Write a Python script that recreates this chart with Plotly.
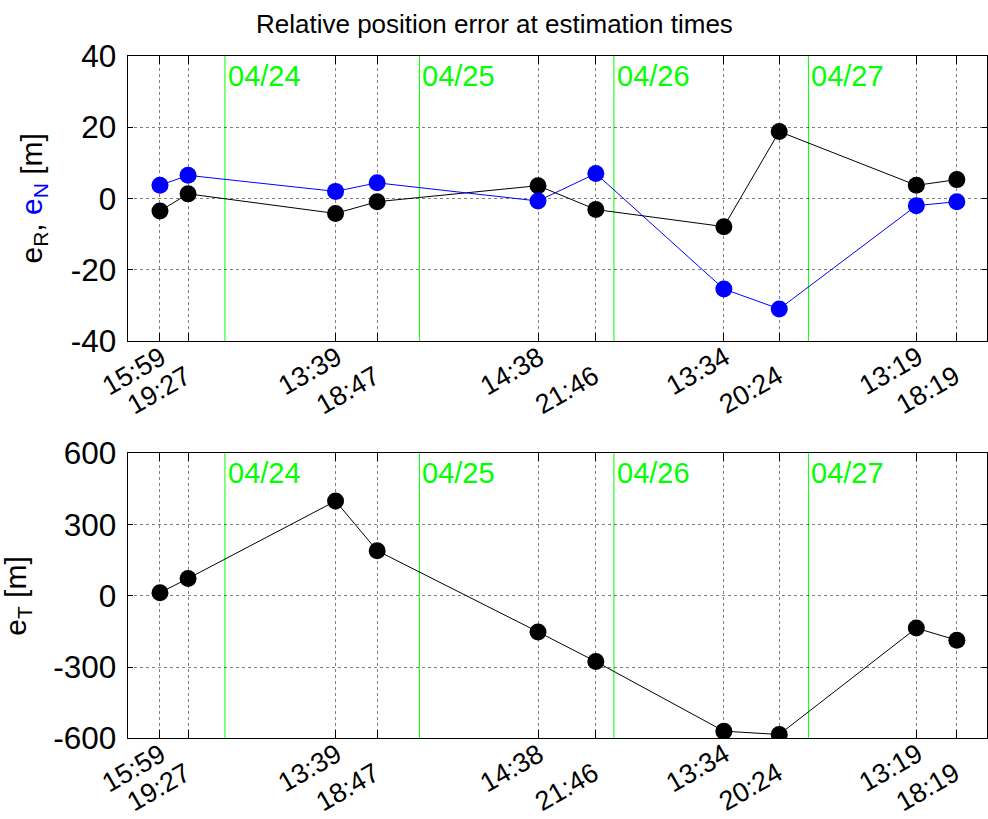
import plotly.graph_objects as go
from datetime import datetime

YEAR = 2015
times = ["04/23 15:59", "04/23 19:27", "04/24 13:39", "04/24 18:47", "04/25 14:38",
         "04/25 21:46", "04/26 13:34", "04/26 20:24", "04/27 13:19", "04/27 18:19"]
e_R = [-3.5, 1.3, -4.2, -0.9, 3.6, -3.1, -7.9, 18.8, 3.7, 5.3]
e_N = [3.7, 6.5, 2.0, 4.4, -0.7, 7.0, -25.4, -31.0, -2.0, -0.9]
e_T = [13, 73, 399, 190, -152, -277, -570, -584, -136, -187]
day_labels = ["04/24", "04/25", "04/26", "04/27"]
y1_ticks = [-40, -20, 0, 20, 40]
y2_ticks = [-600, -300, 0, 300, 600]
x_range = ["04/23 12:00", "04/27 22:00"]


def to_dt(s):
    return datetime.strptime(f"{YEAR}/{s}", "%Y/%m/%d %H:%M")


t = [to_dt(s) for s in times]
tick_labels = [s.split()[1] for s in times]
midnights = [to_dt(d + " 00:00") for d in day_labels]
xr = [to_dt(s) for s in x_range]

W, H = 988, 819
FONT = "Liberation Sans, Arial, Helvetica, sans-serif"
xdom = [127.7 / W, 986.7 / W]
ydom1 = [1 - 341 / H, 1 - 56 / H]
ydom2 = [1 - 738.3 / H, 1 - 453.3 / H]

fig = go.Figure()
fig.add_trace(go.Scatter(x=t, y=e_R, mode="lines+markers", xaxis="x", yaxis="y",
                         line=dict(color="#000000", width=1),
                         marker=dict(size=17, color="#000000"), showlegend=False))
fig.add_trace(go.Scatter(x=t, y=e_N, mode="lines+markers", xaxis="x", yaxis="y",
                         line=dict(color="#0000FF", width=1),
                         marker=dict(size=17, color="#0000FF"), showlegend=False))
fig.add_trace(go.Scatter(x=t, y=e_T, mode="lines+markers", xaxis="x2", yaxis="y2",
                         line=dict(color="#000000", width=1),
                         marker=dict(size=17, color="#000000"), showlegend=False))

grid = dict(showgrid=True, gridcolor="rgba(0,0,0,0.5)", griddash="dot", gridwidth=1,
            zeroline=False, showline=True, linecolor="#000000", linewidth=1,
            mirror="ticks", ticks="inside", tickcolor="#000000", automargin=False)

xcommon = dict(type="date", range=xr, domain=xdom, tickvals=t, showticklabels=False,
               ticklen=8, **grid)
ycommon = dict(ticklen=5, tickfont=dict(size=31.5, color="#000000", family=FONT),
               ticklabelstandoff=4, **grid)

fig.update_layout(
    template="none",
    width=W, height=H,
    margin=dict(l=0, r=0, t=0, b=0, pad=0, autoexpand=False),
    paper_bgcolor="white", plot_bgcolor="white",
    font=dict(family=FONT, color="#000000"),
    xaxis=dict(anchor="y", **xcommon),
    xaxis2=dict(anchor="y2", **xcommon),
    yaxis=dict(anchor="x", domain=ydom1, range=[y1_ticks[0], y1_ticks[-1]],
               tickvals=y1_ticks, ticktext=[str(v) for v in y1_ticks], **ycommon),
    yaxis2=dict(anchor="x2", domain=ydom2, range=[y2_ticks[0], y2_ticks[-1]],
                tickvals=y2_ticks, ticktext=[str(v) for v in y2_ticks], **ycommon),
)

shapes = []
annotations = []
for xa, ya, dom in (("x", "y", ydom1), ("x2", "y2", ydom2)):
    for m, lab in zip(midnights, day_labels):
        shapes.append(dict(type="line", xref=xa, yref=f"{ya} domain", x0=m, x1=m, y0=0, y1=1,
                           line=dict(color="#00FF00", width=1), layer="below"))
        annotations.append(dict(x=m, y=1, xref=xa, yref=f"{ya} domain", text=lab,
                                showarrow=False, xanchor="left", yanchor="top",
                                xshift=1, yshift=-2,
                                font=dict(size=29, color="#00FF00", family=FONT)))
    for i, (ti, lab) in enumerate(zip(t, tick_labels)):
        second = i % 2 == 1
        annotations.append(dict(x=ti, y=dom[0], xref=xa, yref="paper", text=lab,
                                showarrow=False, xanchor="right", yanchor="top",
                                textangle=-30,
                                xshift=11 if second else 14,
                                yshift=-16 if second else 3,
                                font=dict(size=27, color="#000000", family=FONT)))

annotations.append(dict(x=0.5, y=1 - 7 / H, xref="paper", yref="paper",
                        text="Relative position error at estimation times",
                        showarrow=False, xanchor="center", yanchor="top",
                        font=dict(size=26, color="#000000", family=FONT)))
annotations.append(dict(x=33 / W, y=(ydom1[0] + ydom1[1]) / 2, xref="paper", yref="paper",
                        text='e<sub>R</sub>, <span style="color:#0000FF">e<sub>N</sub></span> [m]',
                        showarrow=False, textangle=-90, xanchor="center", yanchor="middle",
                        font=dict(size=30, color="#000000", family=FONT)))
annotations.append(dict(x=18 / W, y=(ydom2[0] + ydom2[1]) / 2, xref="paper", yref="paper",
                        text="e<sub>T</sub> [m]",
                        showarrow=False, textangle=-90, xanchor="center", yanchor="middle",
                        font=dict(size=30, color="#000000", family=FONT)))

fig.update_layout(shapes=shapes, annotations=annotations)
fig.write_html("out.html")
